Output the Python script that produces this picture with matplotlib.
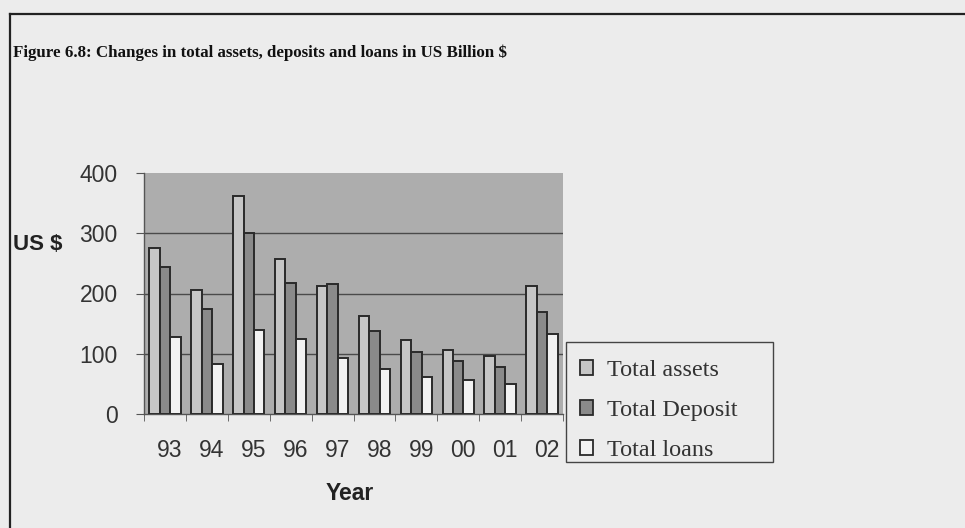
import numpy as np
import matplotlib
matplotlib.use("Agg")
import matplotlib.pyplot as plt
import matplotlib.transforms as mtransforms
from matplotlib.lines import Line2D
from matplotlib.patches import Patch, Rectangle

# Data (US Billion $)
years = ["93", "94", "95", "96", "97", "98", "99", "00", "01", "02"]
total_assets = [276, 206, 362, 258, 213, 163, 122, 106, 96, 213]
total_deposit = [244, 174, 301, 217, 216, 137, 103, 88, 78, 169]
total_loans = [128, 83, 140, 124, 93, 75, 62, 56, 49, 132]
series_names = ["Total assets", "Total Deposit", "Total loans"]

page_bg = "#ececec"
plot_bg = "#adadad"
bar_colors = ["#c6c6c6", "#8a8a8a", "#f2f2f2"]
edge = "#2a2a2a"
text_col = "#333333"

W, H = 965, 528
fig = plt.figure(figsize=(W / 100, H / 100), dpi=100, facecolor=page_bg)


def fx(px):
    return px / W


def fy(py):
    return 1 - py / H


# Page frame (left and top rules)
fig.add_artist(Line2D([fx(10), fx(10)], [0, fy(14)], transform=fig.transFigure,
                      color="#222222", lw=1.6))
fig.add_artist(Line2D([fx(10), 1.0], [fy(14), fy(14)], transform=fig.transFigure,
                      color="#222222", lw=1.6))

fig.text(fx(13), fy(53),
         "Figure 6.8: Changes in total assets, deposits and loans in US Billion $",
         family="Liberation Serif", fontweight="bold", fontsize=12.2, color="#111111",
         ha="left", va="center")

ax = fig.add_axes([fx(144), fy(414), fx(419), 241 / H])
ax.set_facecolor(plot_bg)

x = np.arange(len(years))
w = 0.25
for i, (vals, col) in enumerate(zip([total_assets, total_deposit, total_loans], bar_colors)):
    ax.bar(x + (i - 1) * w, vals, width=w, color=col, edgecolor=edge, linewidth=1.4, zorder=3)

ax.set_xlim(-0.5, len(years) - 0.5)
ax.set_ylim(0, 400)
ax.set_yticks([0, 100, 200, 300, 400])
ax.set_xticks(x)
ax.set_xticklabels(years)
ax.set_xticks(np.arange(-0.5, len(years), 1), minor=True)

for y in [100, 200, 300]:
    ax.axhline(y, color="#4a4a4a", lw=1.0, zorder=1)

for s in ["top", "right"]:
    ax.spines[s].set_visible(False)
for s in ["left", "bottom"]:
    ax.spines[s].set_color("#555555")
    ax.spines[s].set_linewidth(1.0)

ax.tick_params(axis="y", direction="out", length=6, color="#555555", labelsize=16.5,
               labelcolor=text_col, pad=13)
ax.tick_params(axis="x", which="major", length=0, labelsize=16.5, labelcolor=text_col, pad=18)
ax.tick_params(axis="x", which="minor", direction="out", length=5, color="#555555")
shift = mtransforms.ScaledTranslation(5 / 100, 0, fig.dpi_scale_trans)
for lab in ax.get_xticklabels():
    lab.set_family("Liberation Sans")
    lab.set_transform(lab.get_transform() + shift)
for lab in ax.get_yticklabels():
    lab.set_family("Liberation Sans")

fig.text(fx(13), fy(244), "US $", family="Liberation Sans", fontweight="bold",
         fontsize=16, color="#222222", ha="left", va="center")
fig.text(fx(350), fy(494), "Year", family="Liberation Sans", fontweight="bold",
         fontsize=16.5, color="#222222", ha="center", va="center")

# Legend with its own frame
fig.add_artist(Rectangle((fx(566), fy(462)), fx(207), 120 / H, transform=fig.transFigure,
                         facecolor=page_bg, edgecolor="#444444", linewidth=1.0, zorder=2))
handles = [Patch(facecolor=c, edgecolor=edge, linewidth=1.3) for c in bar_colors]
leg = fig.legend(handles, series_names, loc="upper left",
                 bbox_to_anchor=(fx(580), fy(360)), borderaxespad=0,
                 prop={"family": "Liberation Serif", "size": 17.4},
                 frameon=False, handlelength=0.55, handleheight=0.55,
                 handletextpad=0.55, labelspacing=0.79, borderpad=0)
leg.set_zorder(3)
for t in leg.get_texts():
    t.set_color(text_col)

fig.savefig("out.png", dpi=100, facecolor=page_bg)
